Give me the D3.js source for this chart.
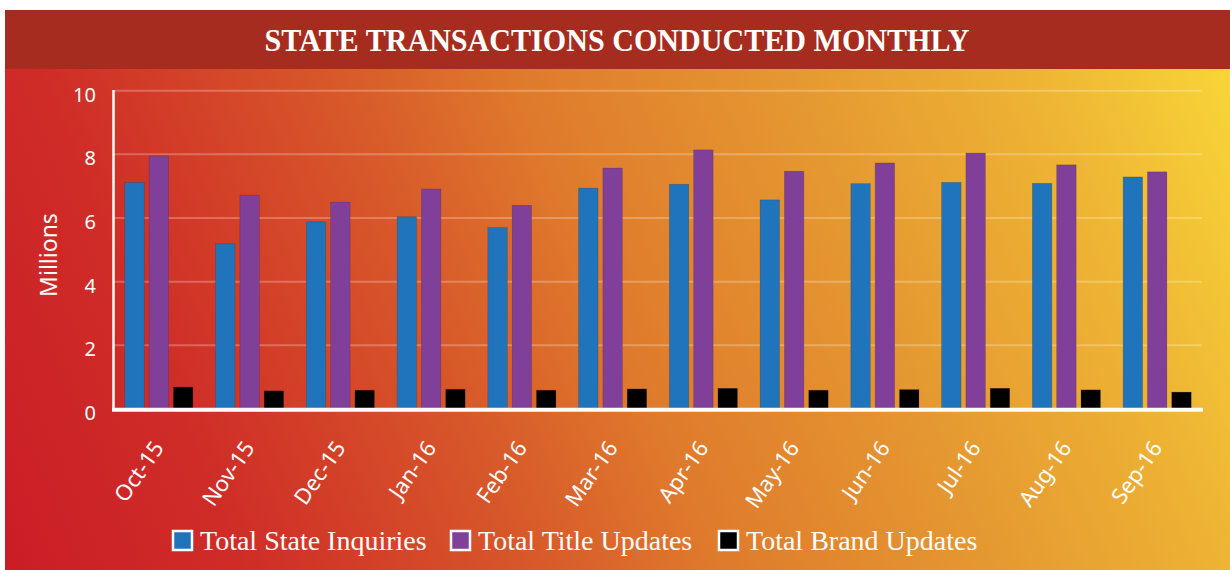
<!DOCTYPE html>
<html>
<head>
<meta charset="utf-8">
<script src="https://cdn.jsdelivr.net/npm/d3@7"></script>
<style>
  html, body { margin: 0; padding: 0; background: #fff; }
  svg { display: block; }
</style>
</head>
<body>
<svg id="chart" width="1230" height="570"></svg>
<script>
// Data (millions)
const months = ['Oct-15', 'Nov-15', 'Dec-15', 'Jan-16', 'Feb-16', 'Mar-16',
                'Apr-16', 'May-16', 'Jun-16', 'Jul-16', 'Aug-16', 'Sep-16'];
const stateInquiries = [7.12, 5.19, 5.88, 6.04, 5.70, 6.94, 7.06, 6.57, 7.08, 7.12, 7.09, 7.29];
const titleUpdates   = [7.95, 6.72, 6.50, 6.91, 6.40, 7.57, 8.14, 7.47, 7.73, 8.04, 7.67, 7.45];
const brandUpdates   = [0.69, 0.57, 0.59, 0.62, 0.59, 0.63, 0.65, 0.59, 0.61, 0.65, 0.60, 0.53];
const seriesNames = ['Total State Inquiries', 'Total Title Updates', 'Total Brand Updates'];
const seriesColors = ['#1f74bc', '#803f98', '#000000'];
const yTicks = [0, 2, 4, 6, 8, 10];

const svg = d3.select('#chart');

// Background gradient (red bottom-left -> yellow top-right)
const defs = svg.append('defs');
const grad = defs.append('linearGradient')
  .attr('id', 'bg')
  .attr('gradientUnits', 'userSpaceOnUse')
  .attr('x1', 0).attr('y1', 570)
  .attr('x2', 1230).attr('y2', 69);
[[0, '#ca1d27'], [0.17, '#cf2c27'], [0.38, '#d85a2a'], [0.5, '#df7a2c'],
 [0.69, '#e59831'], [0.86, '#eeb434'], [1, '#f8d538']].forEach(([o, c]) => {
  grad.append('stop').attr('offset', o).attr('stop-color', c);
});

svg.append('rect')
  .attr('x', 5).attr('y', 69).attr('width', 1225).attr('height', 501)
  .attr('fill', 'url(#bg)');

// Title banner
svg.append('rect')
  .attr('x', 5).attr('y', 10).attr('width', 1225).attr('height', 59)
  .attr('fill', '#a52c1e');

svg.append('text')
  .attr('x', 617).attr('y', 51)
  .attr('text-anchor', 'middle')
  .attr('font-family', '"Liberation Serif", "DejaVu Serif", serif')
  .attr('font-weight', 'bold')
  .attr('font-size', 32)
  .attr('textLength', 705)
  .attr('lengthAdjust', 'spacingAndGlyphs')
  .attr('fill', '#fff')
  .text('STATE TRANSACTIONS CONDUCTED MONTHLY');

// Scales
const margin = { left: 113, right: 1203, top: 90.7, bottom: 409 };

const x0 = d3.scaleBand()
  .domain(months)
  .range([margin.left, margin.right])
  .paddingInner(0.25)
  .paddingOuter(0.13);

const x1 = d3.scaleBand()
  .domain(seriesNames)
  .range([0, x0.bandwidth()])
  .paddingInner(0.2);

const y = d3.scaleLinear()
  .domain([0, 10])
  .range([margin.bottom, margin.top]);

// Gridlines
svg.append('g')
  .selectAll('line')
  .data(yTicks.filter(d => d > 0))
  .enter()
  .append('line')
  .attr('x1', margin.left).attr('x2', margin.right - 1)
  .attr('y1', d => y(d)).attr('y2', d => y(d))
  .attr('stroke', '#fff')
  .attr('stroke-opacity', 0.25)
  .attr('stroke-width', 2);

// Y tick labels
svg.append('g')
  .selectAll('text')
  .data(yTicks)
  .enter()
  .append('text')
  .attr('x', 96)
  .attr('y', d => y(d) + 11)
  .attr('text-anchor', 'end')
  .attr('font-family', '"Noto Sans", sans-serif')
  .attr('font-size', 20)
  .attr('fill', '#fff')
  .text(d => d);

// Y axis title
svg.append('text')
  .attr('transform', 'translate(57,255) rotate(-90)')
  .attr('text-anchor', 'middle')
  .attr('font-family', '"Noto Sans", sans-serif')
  .attr('font-size', 23)
  .attr('fill', '#fff')
  .text('Millions');

// Bars
const rows = months.map((m, i) => ({
  month: m,
  values: [stateInquiries[i], titleUpdates[i], brandUpdates[i]]
}));

const groups = svg.append('g')
  .selectAll('g')
  .data(rows)
  .enter()
  .append('g')
  .attr('transform', d => `translate(${x0(d.month)},0)`);

groups.selectAll('rect')
  .data(d => d.values.map((v, k) => ({ name: seriesNames[k], value: v, color: seriesColors[k] })))
  .enter()
  .append('rect')
  .attr('x', d => x1(d.name))
  .attr('y', d => y(d.value))
  .attr('width', x1.bandwidth())
  .attr('height', d => y(0) - y(d.value))
  .attr('fill', d => d.color)
  .attr('stroke', 'rgba(60,40,40,0.35)')
  .attr('stroke-width', 0.6);

// Axis lines
svg.append('line')
  .attr('x1', 113.5).attr('x2', 113.5)
  .attr('y1', 90).attr('y2', 411)
  .attr('stroke', '#fff').attr('stroke-width', 2.5);

svg.append('line')
  .attr('x1', 112).attr('x2', margin.right)
  .attr('y1', 409.8).attr('y2', 409.8)
  .attr('stroke', '#fff').attr('stroke-width', 4);

// X labels, rotated
svg.append('g')
  .selectAll('text')
  .data(months)
  .enter()
  .append('text')
  .attr('transform', d => `translate(${x0(d) + x0.bandwidth() / 2 + 6},448) rotate(-55)`)
  .attr('text-anchor', 'end')
  .attr('font-family', '"Noto Sans", sans-serif')
  .attr('font-size', 22)
  .attr('fill', '#fff')
  .text(d => d);

// Legend
const legendX = [173, 451, 719];
const legend = svg.append('g')
  .selectAll('g')
  .data(seriesNames)
  .enter()
  .append('g')
  .attr('transform', (d, i) => `translate(${legendX[i]},531)`);

legend.append('rect')
  .attr('width', 19).attr('height', 19)
  .attr('fill', (d, i) => seriesColors[i])
  .attr('stroke', '#fff')
  .attr('stroke-width', 2.5);

legend.append('text')
  .attr('x', 27).attr('y', 19)
  .attr('font-family', '"Liberation Serif", "DejaVu Serif", serif')
  .attr('font-size', 28)
  .attr('fill', '#fff')
  .text(d => d);
</script>
</body>
</html>
